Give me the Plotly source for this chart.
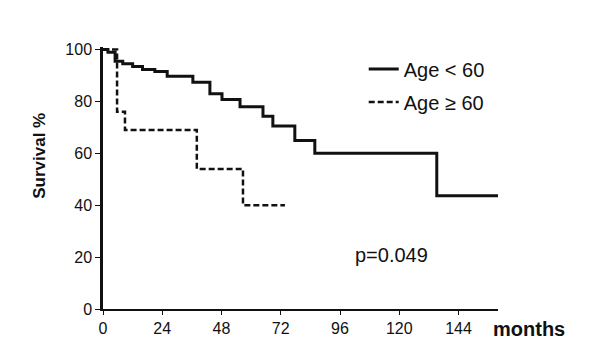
import plotly.graph_objects as go

# Kaplan-Meier steps (months, survival %)
young_months = [0, 2, 4.9, 8, 12, 16, 21, 26, 36.4, 43.3, 48.2, 55.5, 64.8, 68.8, 77.7, 85.8, 135.2, 161.5]
young_surv = [100, 99, 95.5, 94.5, 93.5, 92.3, 91.6, 89.7, 87.4, 83, 80.8, 78, 74.3, 70.5, 65, 60, 43.7, 43.7]

old_months = [0, 5.7, 8.9, 38, 56.7, 73.7]
old_surv = [100, 76, 69, 54, 40, 40]

x_ticks = [0, 24, 48, 72, 96, 120, 144]
y_ticks = [0, 20, 40, 60, 80, 100]

font_family = "Liberation Sans, Arial, sans-serif"

fig = go.Figure()
fig.add_trace(go.Scatter(
    x=young_months, y=young_surv, mode="lines", line_shape="hv",
    line=dict(color="#111111", width=3), name="Age < 60", legendgroup="a"))
fig.add_trace(go.Scatter(
    x=old_months, y=old_surv, mode="lines", line_shape="hv",
    line=dict(color="#111111", width=2.5, dash="6px,3px"), name="Age ≥ 60", legendgroup="b"))

fig.update_layout(
    width=591, height=363,
    margin=dict(l=103, r=93, t=47, b=54),
    paper_bgcolor="white", plot_bgcolor="white",
    font=dict(family=font_family, color="#111111"),
    showlegend=True,
    legend=dict(x=0.66, y=0.99, xanchor="left", yanchor="top",
                font=dict(size=20, color="#111111"),
                bgcolor="rgba(0,0,0,0)", tracegroupgap=4, itemwidth=30),
    xaxis=dict(range=[0, 160], tickvals=x_ticks, ticktext=[str(v) for v in x_ticks],
               showgrid=False, zeroline=False, showline=True, linecolor="#111111",
               linewidth=1.5, ticks="outside", ticklen=4, tickwidth=1.2, tickcolor="#111111",
               tickfont=dict(size=16, color="#111111")),
    yaxis=dict(range=[0, 101], tickvals=y_ticks, ticktext=[str(v) for v in y_ticks],
               showgrid=False, zeroline=False, showline=True, linecolor="#111111",
               linewidth=2.5, ticks="outside", ticklen=5, tickwidth=1.2, tickcolor="#111111",
               tickfont=dict(size=16, color="#111111")),
    annotations=[
        dict(text="<b>months</b>", xref="paper", yref="paper", x=0.982, y=-0.076,
             xanchor="left", yanchor="middle", showarrow=False,
             font=dict(size=20, color="#111111")),
        dict(text="<b>Survival %</b>", xref="paper", yref="paper", x=-0.16, y=0.584,
             xanchor="center", yanchor="middle", textangle=-90, showarrow=False,
             font=dict(size=17, color="#111111")),
        dict(text="p=0.049", xref="x", yref="y", x=117, y=21,
             xanchor="center", yanchor="middle", showarrow=False,
             font=dict(size=20, color="#111111")),
    ],
)

fig.write_html("out.html", config={"displayModeBar": False},
               post_script="document.body.style.margin='0px';")
